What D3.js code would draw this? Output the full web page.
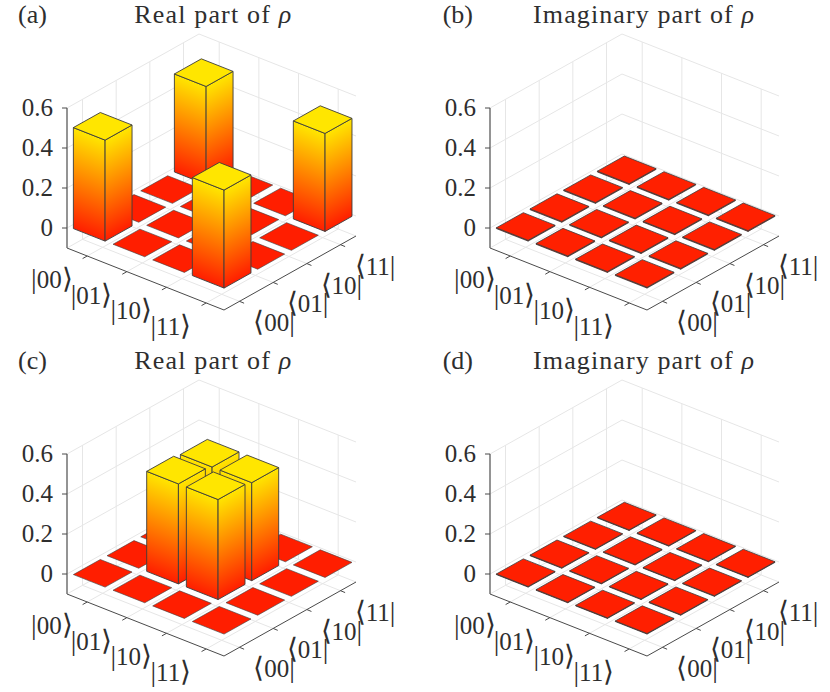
<!DOCTYPE html>
<html><head><meta charset="utf-8">
<script src="https://cdn.jsdelivr.net/npm/d3@7"></script>
<style>html,body{margin:0;padding:0;background:#fff}svg{display:block}
text{font-family:"Liberation Serif",serif;fill:#2e2e2e}</style></head>
<body><div id="c"></div>
<script>
const basisTicks = [1,2,3,4];
const zTicks = [0,0.2,0.4,0.6];
const zTickLabels = ["0","0.2","0.4","0.6"];
const ketLabels = ["00","01","10","11"];
const titles = ["Real part of ","Imaginary part of ","Real part of ","Imaginary part of "];
const panelLetters = ["(a)","(b)","(c)","(d)"];
// rows: ket index (x), columns: bra index (y)
const realA = [[0.505,0,0,0.49],[0,0,0,0],[0,0,0,0],[0.49,0,0,0.49]];
const imagB = [[0.004,0.004,0.004,0.004],[0.004,0.004,0.004,0.004],[0.004,0.004,0.004,0.004],[0.004,0.004,0.004,0.004]];
const realC = [[0,0,0,0],[0,0.5,0.49,0],[0,0.5,0.49,0],[0,0,0,0]];
const imagD = [[0.003,0.003,0.003,0.003],[0.003,0.003,0.003,0.003],[0.003,0.003,0.003,0.003],[0.003,0.003,0.003,0.003]];
const panelData = [realA,imagB,realC,imagD];
const panelDx = [0,423,0,423];
const panelDy = [0,0,346,346];
const titleCx = [212.7,220.5,212.7,220.5];
const titleW = [157,221,157,221];
const letterX = [18,19.7,18,19.7];
const xLim=[0.49,4.45], yLim=[0.54,4.46], zLim=[-0.1,0.6], barW=0.8;
const red="#ff1e00", yellow="#ffe600";

const xToX=d3.scaleLinear(xLim,[0,157]), xToY=d3.scaleLinear(xLim,[0,62]);
const yToX=d3.scaleLinear(yLim,[0,132]), yToY=d3.scaleLinear(yLim,[0,-74]);
const zToY=d3.scaleLinear(zLim,[248,108]);
const color=d3.scaleLinear([0,0.485],[red,yellow]).clamp(true);
const P=(x,y,z)=>[67+xToX(x)+yToX(y), zToY(z)+xToY(x)+yToY(y)];
const line=d3.line();
const closed=pts=>line(pts)+"Z";

const svg=d3.select("#c").append("svg").attr("width",830).attr("height",692);
const defs=svg.append("defs");
let gid=0;
function grad(B,E,z){
  const H=zToY(0)-zToY(z);
  const ex=E[0]-B[0],ey=E[1]-B[1],L=Math.hypot(ex,ey),nx=-ey/L,ny=ex/L;
  const d=nx*0+ny*(-H);
  const id="g"+(gid++);
  const g=defs.append("linearGradient").attr("id",id).attr("gradientUnits","userSpaceOnUse")
    .attr("x1",B[0]).attr("y1",B[1]).attr("x2",B[0]+nx*d).attr("y2",B[1]+ny*d);
  g.append("stop").attr("offset",0).attr("stop-color",color(0));
  g.append("stop").attr("offset",1).attr("stop-color",color(z));
  return `url(#${id})`;
}
function braket(sel,x,y,open,digits,close){
  const t=sel.append("text").attr("x",x).attr("y",y).attr("text-anchor","middle").attr("font-size",25);
  t.append("tspan").attr("font-size",28).attr("font-weight",200).text(open);
  t.append("tspan").text(digits);
  t.append("tspan").attr("font-size",28).attr("font-weight",200).text(close);
}

panelData.forEach((data,pi)=>{
  const g=svg.append("g").attr("transform",`translate(${panelDx[pi]},${panelDy[pi]})`);
  const grid=g.append("g").attr("fill","none").attr("stroke","#e6e6e6").attr("stroke-width",1);
  const [x0,x1]=xLim,[y0,y1]=yLim,[z0,z1]=zLim;
  zTicks.forEach(z=>{ grid.append("path").attr("d",line([P(x0,y0,z),P(x0,y1,z),P(x1,y1,z)])); });
  basisTicks.forEach(t=>{
    grid.append("path").attr("d",line([P(x1,t,z0),P(x0,t,z0),P(x0,t,z1)]));
    grid.append("path").attr("d",line([P(t,y0,z0),P(t,y1,z0),P(t,y1,z1)]));
  });
  grid.append("path").attr("d",line([P(x0,y0,z0),P(x0,y1,z0),P(x1,y1,z0)]));

  const ax=g.append("g").attr("fill","none");
  ax.append("path").attr("d",line([P(x0,y0,z0),P(x1,y0,z0),P(x1,y1,z0)])).attr("stroke","#4a4a4a").attr("stroke-width",1);
  ax.append("path").attr("d",line([P(x0,y0,z0),P(x0,y0,z1)])).attr("stroke","#707070").attr("stroke-width",1.5);
  basisTicks.forEach(t=>{
    const a=P(t,y0,z0); ax.append("path").attr("d",line([a,[a[0]-4.6,a[1]+2.6]])).attr("stroke","#4a4a4a");
    const b=P(x1,t,z0); ax.append("path").attr("d",line([b,[b[0]+4.6,b[1]+1.9]])).attr("stroke","#4a4a4a");
  });
  zTicks.forEach(z=>{
    const a=P(x0,y0,z); ax.append("path").attr("d",line([a,[a[0]-5,a[1]]])).attr("stroke","#4a4a4a");
  });

  const cells=d3.cross(basisTicks,[...basisTicks].reverse()).map(([x,y])=>({x,y,z:data[x-1][y-1]}));
  const bars=g.append("g").attr("stroke-linejoin","round");
  cells.forEach(c=>{
    const xa=c.x-barW/2,xb=c.x+barW/2,ya=c.y-barW/2,yb=c.y+barW/2;
    const bar=bars.append("g").attr("stroke","#3c3c3c").attr("stroke-width",c.z>0.1?0.9:(c.z>0?0.8:0.6));
    if(c.z>0){
      const L0=P(xa,ya,0),F0=P(xb,ya,0),R0=P(xb,yb,0);
      bar.append("path").attr("d",closed([L0,F0,P(xb,ya,c.z),P(xa,ya,c.z)])).attr("fill",grad(L0,F0,c.z));
      bar.append("path").attr("d",closed([F0,R0,P(xb,yb,c.z),P(xb,ya,c.z)])).attr("fill",grad(F0,R0,c.z));
    }
    bar.append("path").attr("d",closed([P(xa,ya,c.z),P(xb,ya,c.z),P(xb,yb,c.z),P(xa,yb,c.z)])).attr("fill",color(c.z));
  });

  const tg=g.append("g");
  zTicks.forEach((z,i)=>{
    tg.append("text").attr("x",53).attr("y",zToY(z)+7.5).attr("text-anchor","end")
      .attr("font-size",25).text(zTickLabels[i]);
  });
  basisTicks.forEach((t,i)=>{
    const a=P(t,y0,z0);
    braket(tg,a[0]-35.3,a[1]+32,"|",ketLabels[i],"\u27E9");
    const b=P(x1,t,z0);
    braket(tg,b[0]+34.5,b[1]+30,"\u27E8",ketLabels[i],"|");
  });
  const tt=tg.append("text").attr("x",titleCx[pi]).attr("y",23).attr("text-anchor","middle").attr("font-size",26)
    .attr("textLength",titleW[pi]).attr("lengthAdjust","spacing");
  tt.append("tspan").text(titles[pi]);
  tt.append("tspan").attr("font-style","italic").text("\u03C1");
  tg.append("text").attr("x",letterX[pi]).attr("y",23).attr("font-size",26).text(panelLetters[pi]);
});
</script></body></html>
